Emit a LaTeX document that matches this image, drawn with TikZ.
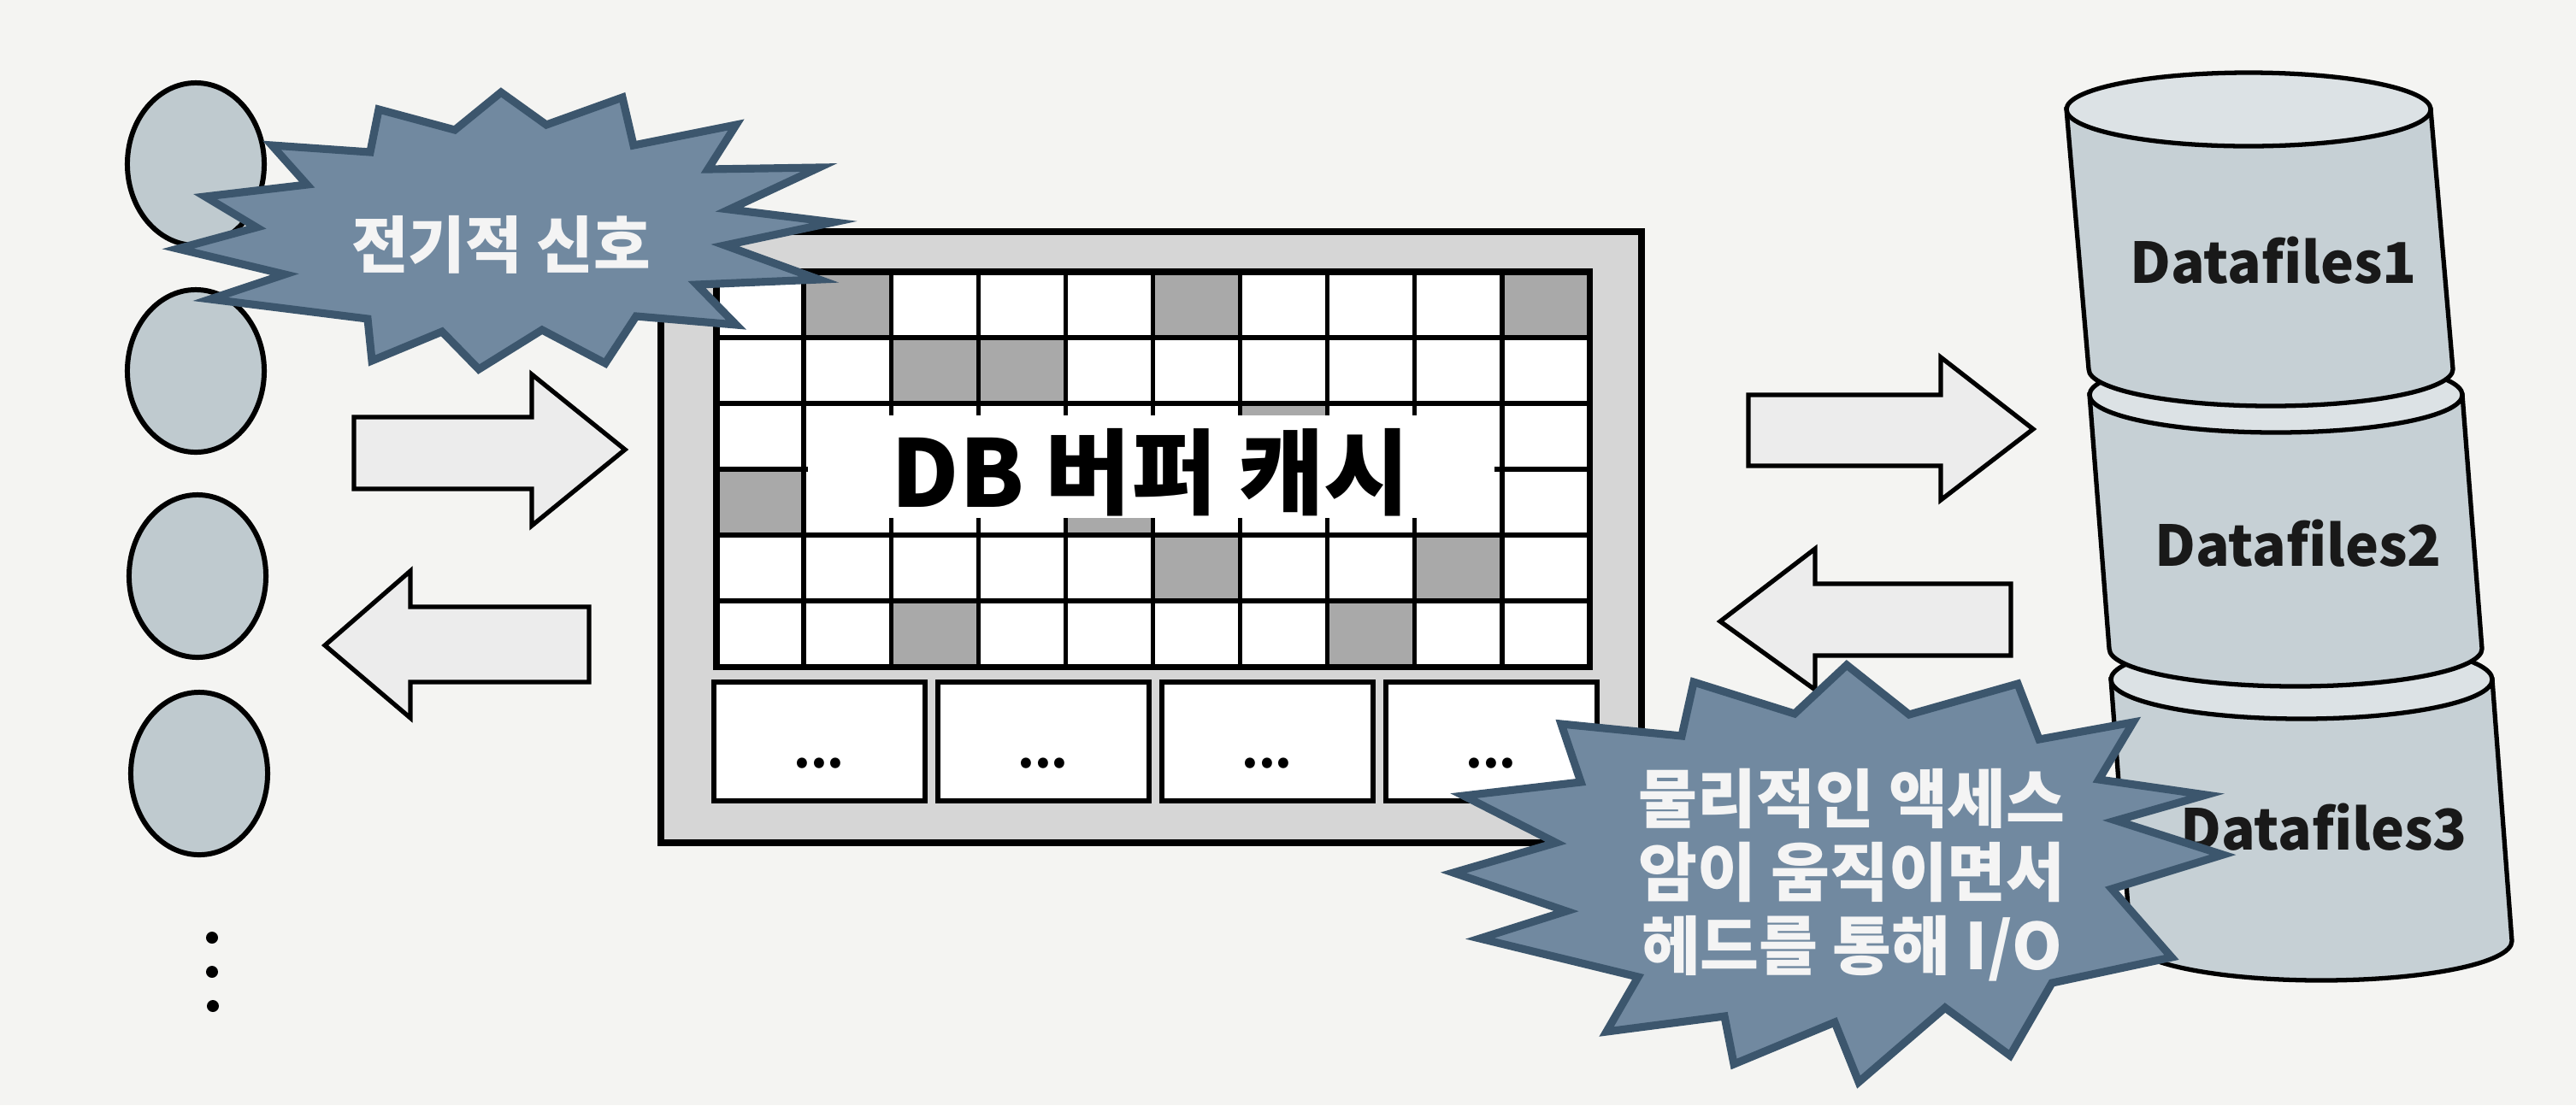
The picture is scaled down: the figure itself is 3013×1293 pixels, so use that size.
\documentclass[tikz,border=0pt]{standalone}
\usepackage{fontspec}
\setmainfont{Noto Sans CJK KR}
\usetikzlibrary{shapes.geometric}
\definecolor{bgcol}{HTML}{F4F4F2}
\definecolor{circfill}{HTML}{BFCACF}
\definecolor{arrowfill}{HTML}{ECECEC}
\definecolor{framefill}{HTML}{D6D6D6}
\definecolor{cellgray}{HTML}{A9A9A9}
\definecolor{cylfill}{HTML}{C6D0D5}
\definecolor{cyltopfill}{HTML}{DCE2E5}
\definecolor{burstfill}{HTML}{7189A0}
\definecolor{burstedge}{HTML}{3C566D}
\definecolor{bursttxt}{HTML}{F4F4F4}
\tikzset{
  circ/.style={ellipse, draw=black, line width=1.7pt, fill=circfill, minimum width=1.6cm, minimum height=1.9cm, inner sep=0pt},
  smalldot/.style={circle, fill=black, minimum size=0.14cm, inner sep=0pt},
  blockarrow/.style={draw=black, line width=1.5pt, fill=arrowfill, line join=miter},
  burst/.style={draw=burstedge, line width=2.6pt, fill=burstfill, line join=miter},
  bursttext/.style={text=bursttxt, font=\bfseries\fontsize{21.3}{24.5}\selectfont, align=center, inner sep=0pt},
  gridline/.style={draw=black, line width=1.5pt},
  dotbox/.style={draw=black, line width=1.8pt, fill=white, minimum width=2.47cm, minimum height=1.39cm, inner sep=0pt},
  dotstxt/.style={font=\bfseries\fontsize{16}{18}\selectfont, inner sep=0pt},
  cyl/.style={draw=black, line width=1.5pt, fill=cylfill},
  cyltop/.style={draw=black, line width=1.5pt, fill=cyltopfill},
  cyltxt/.style={font=\bfseries\fontsize{18.7}{21}\selectfont, text=black!90},
}
\newcommand\drumpart[6]{%
  \filldraw[cyl] (#1-#5,#2) -- (#3-#5,#4) arc[start angle=180,end angle=0,x radius=#5,y radius=#6] -- (#1+#5,#2) -- cycle;
  \filldraw[cyltop] (#1,#2) ellipse[x radius=#5,y radius=#6];
}
\begin{document}
\begin{tikzpicture}[x=0.01cm,y=-0.01cm]
\useasboundingbox (0,0) rectangle (3013,1293);
\fill[bgcol] (0,0) rectangle (3013,1293);

% left circles (clients)
\node[circ] (c1) at (229,192) {};
\node[circ] (c2) at (229,434) {};
\node[circ] (c3) at (231,674) {};
\node[circ] (c4) at (233,905) {};
\node[smalldot] (d1) at (248,1097) {};
\node[smalldot] (d2) at (248,1137) {};
\node[smalldot] (d3) at (249,1177) {};

% left block arrows
\filldraw[blockarrow] (414,488) -- (622,488) -- (622,438) -- (731,526) -- (622,615) -- (622,572) -- (414,572) -- cycle;
\filldraw[blockarrow] (380,755) -- (480,668) -- (480,710) -- (689,710) -- (689,798) -- (480,798) -- (480,840) -- cycle;

% right block arrows
\filldraw[blockarrow] (2045,462) -- (2270,462) -- (2270,418) -- (2378,502) -- (2270,585) -- (2270,545) -- (2045,545) -- cycle;
\filldraw[blockarrow] (2012,727) -- (2123,642) -- (2123,683) -- (2352,683) -- (2352,767) -- (2123,767) -- (2123,807) -- cycle;

% DB buffer cache frame
\filldraw[fill=framefill, draw=black, line width=2.4pt] (773,271) rectangle (1920,986);
\fill[white] (838,318) rectangle (1859,780);
\foreach \r/\c in {0/1,0/5,0/9,1/2,1/3,2/6,3/0,3/4,4/5,4/8,5/2,5/7}
  \fill[cellgray] ({838+\c*102.1},{318+\r*77}) rectangle ({838+(\c+1)*102.1},{318+(\r+1)*77});
\foreach \c in {0,...,10}
  \draw[gridline] ({838+\c*102.1},318) -- ({838+\c*102.1},780);
\foreach \r in {0,...,6}
  \draw[gridline] (838,{318+\r*77}) -- (1859,{318+\r*77});
\draw[black, line width=2pt] (838,318) rectangle (1859,780);
\fill[white] (945,486) rectangle (1748,606);
\node[font=\bfseries\fontsize{31}{34}\selectfont, inner sep=0pt] (dbtitle) at (1346,553) {DB 버퍼 캐시};

\node[dotbox] (b1) at (958.5,867.5) {};
\node[dotbox] (b2) at (1220.5,867.5) {};
\node[dotbox] (b3) at (1482.5,867.5) {};
\node[dotbox] (b4) at (1744.5,867.5) {};
\node[dotstxt] (t1) at (958,893) {...};
\node[dotstxt] (t2) at (1220,893) {...};
\node[dotstxt] (t3) at (1482,893) {...};
\node[dotstxt] (t4) at (1744,893) {...};

% data files (stacked cylinders)
\drumpart{2692}{795}{2715}{1101}{223}{46}
\drumpart{2662}{462}{2685}{759}{218}{44}
\drumpart{2630}{128}{2656}{432}{213}{43}
\node[cyltxt] (df1) at (2659,305) {Datafiles1};
\node[cyltxt] (df2) at (2688,636) {Datafiles2};
\node[cyltxt] (df3) at (2718,968) {Datafiles3};

% burst 1
\filldraw[burst] (443,128) -- (532,152) -- (586,108) -- (639,146) -- (728,114) -- (741,170) -- (861,146) -- (828,198) -- (958,196) -- (853,245) -- (975,260) -- (848,287) -- (958,327) -- (815,333) -- (861,380) -- (744,370) -- (708,425) -- (634,386) -- (560,432) -- (517,388) -- (435,422) -- (430,373) -- (246,350) -- (333,321) -- (208,291) -- (300,266) -- (240,230) -- (359,216) -- (318,170) -- (433,178) -- cycle;
\node[bursttext, font=\bfseries\fontsize{20.6}{23}\selectfont] (sig) at (586,286) {전기적 신호};

% burst 2
\filldraw[burst] (2160,778) -- (2233,836) -- (2360,800) -- (2385,865) -- (2495,845) -- (2455,912) -- (2580,930) -- (2475,960) -- (2600,1000) -- (2470,1040) -- (2540,1120) -- (2400,1150) -- (2351,1235) -- (2275,1179) -- (2174,1266) -- (2146,1196) -- (2028,1245) -- (2017,1189) -- (1879,1207) -- (1916,1143) -- (1731,1098) -- (1832,1066) -- (1700,1021) -- (1820,986) -- (1712,931) -- (1849,915) -- (1826,847) -- (1967,861) -- (1981,798) -- (2099,835) -- cycle;
\node[bursttext] (io) at (2166,1024) {물리적인 액세스\\암이 움직이면서\\헤드를 통해 I/O};
\end{tikzpicture}
\end{document}
